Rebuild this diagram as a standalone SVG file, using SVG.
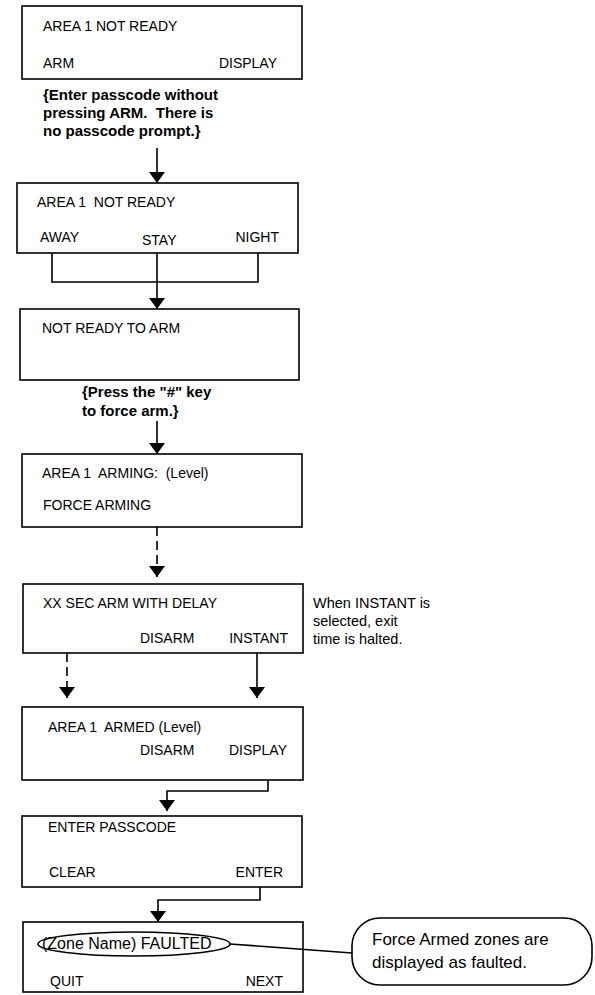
<svg xmlns="http://www.w3.org/2000/svg" width="595" height="995" viewBox="0 0 595 995">
<style>
.box{fill:#fff;stroke:#000;stroke-width:1.6}
.t{font-family:"Liberation Sans",Arial,sans-serif;font-size:14px;fill:#000}
.b{font-family:"Liberation Sans",Arial,sans-serif;font-size:15px;font-weight:bold;fill:#000}
.n{font-family:"Liberation Sans",Arial,sans-serif;font-size:14.5px;fill:#000}
.c{font-family:"Liberation Sans",Arial,sans-serif;font-size:17px;fill:#000}
.ln{fill:none;stroke:#000;stroke-width:1.6}
.dash{stroke-dasharray:9 5}
</style>
<defs>
<marker id="ah" viewBox="0 0 11 16" markerWidth="11" markerHeight="16" refX="11" refY="8" orient="auto" markerUnits="userSpaceOnUse">
<path d="M0,0 L11,8 L0,16 z" fill="#000"/>
</marker>
</defs>
<rect width="595" height="995" fill="#fff"/>

<g id="node1">
<rect class="box" x="22" y="6" width="280" height="73"/>
<text class="t" x="43" y="31">AREA 1 NOT READY</text>
<text class="t" x="43" y="68">ARM</text>
<text class="t" x="277" y="68" text-anchor="end">DISPLAY</text>
</g>
<g id="note1">
<text class="b" x="43" y="100">{Enter passcode without</text>
<text class="b" x="43" y="118" xml:space="preserve">pressing ARM.  There is</text>
<text class="b" x="43" y="136">no passcode prompt.}</text>
</g>

<g id="node2">
<rect class="box" x="17" y="183" width="281" height="70"/>
<text class="t" x="37" y="207" xml:space="preserve">AREA 1  NOT READY</text>
<text class="t" x="40" y="242">AWAY</text>
<text class="t" x="142" y="245">STAY</text>
<text class="t" x="279" y="242" text-anchor="end">NIGHT</text>
</g>

<g id="node3">
<rect class="box" x="20" y="309" width="279" height="71"/>
<text class="t" x="42" y="333">NOT READY TO ARM</text>
</g>
<g id="note2">
<text class="b" x="82" y="397">{Press the "#" key</text>
<text class="b" x="82" y="416">to force arm.}</text>
</g>

<g id="node4">
<rect class="box" x="22" y="454" width="280" height="73"/>
<text class="t" x="42" y="478" xml:space="preserve">AREA 1  ARMING:  (Level)</text>
<text class="t" x="43" y="510">FORCE ARMING</text>
</g>

<g id="node5">
<rect class="box" x="23" y="584" width="280" height="69"/>
<text class="t" x="43" y="608">XX SEC ARM WITH DELAY</text>
<text class="t" x="140" y="643">DISARM</text>
<text class="t" x="288" y="643" text-anchor="end">INSTANT</text>
</g>
<g id="note3">
<text class="n" x="313" y="608">When INSTANT is</text>
<text class="n" x="313" y="626">selected, exit</text>
<text class="n" x="313" y="644">time is halted.</text>
</g>

<g id="node6">
<rect class="box" x="22" y="707" width="281" height="73"/>
<text class="t" x="48" y="732" xml:space="preserve">AREA 1  ARMED (Level)</text>
<text class="t" x="140" y="755">DISARM</text>
<text class="t" x="287" y="755" text-anchor="end">DISPLAY</text>
</g>

<g id="node7">
<rect class="box" x="22" y="816" width="280" height="71"/>
<text class="t" x="48" y="832">ENTER PASSCODE</text>
<text class="t" x="49" y="877">CLEAR</text>
<text class="t" x="283" y="877" text-anchor="end">ENTER</text>
</g>

<g id="node8">
<rect class="box" x="23" y="922" width="280" height="70"/>
<ellipse cx="134" cy="944" rx="96" ry="12" fill="none" stroke="#000" stroke-width="1.6"/>
<text class="t" x="42" y="949" style="font-size:16px">(Zone Name) FAULTED</text>
<text class="t" x="50" y="986">QUIT</text>
<text class="t" x="283" y="986" text-anchor="end">NEXT</text>
</g>

<g id="callout">
<rect class="box" x="352" y="918" width="240" height="67" rx="28" ry="28"/>
<text class="c" x="372" y="945">Force Armed zones are</text>
<text class="c" x="372" y="968">displayed as faulted.</text>
</g>

<g id="connectors">
<path class="ln" d="M157,148 V183" marker-end="url(#ah)"/>
<path class="ln" d="M52,253 V282 H258 V253"/>
<path class="ln" d="M157,253 V309" marker-end="url(#ah)"/>
<path class="ln" d="M157,421 V454" marker-end="url(#ah)"/>
<path class="ln dash" d="M157,527 V577" marker-end="url(#ah)"/>
<path class="ln dash" d="M67,653 V698" marker-end="url(#ah)"/>
<path class="ln" d="M257,653 V698" marker-end="url(#ah)"/>
<path class="ln" d="M268,780 V791 H167 V811" marker-end="url(#ah)"/>
<path class="ln" d="M260,887 V900 H158 V922" marker-end="url(#ah)"/>
<path class="ln" d="M230,944 L352,953"/>
</g>
</svg>
